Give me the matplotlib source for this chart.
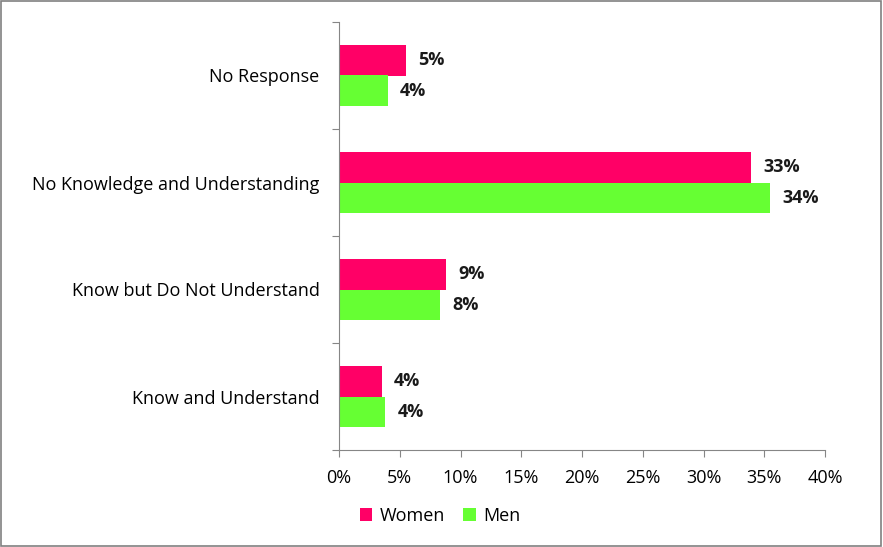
import numpy as np
import matplotlib.pyplot as plt
from matplotlib.patches import Rectangle

categories = ['Know and Understand', 'Know but Do Not Understand',
              'No Knowledge and Understanding', 'No Response']
women = [3.5, 8.8, 33.9, 5.5]
men = [3.8, 8.3, 35.5, 4.0]
women_labels = ['4%', '9%', '33%', '5%']
men_labels = ['4%', '8%', '34%', '4%']

pink = '#FF0066'
green = '#66FF33'
grey = '#868686'

plt.rcParams['font.family'] = ['Open Sans', 'DejaVu Sans']

fig = plt.figure(figsize=(8.83, 5.47), dpi=100)
ax = fig.add_axes([339/883, 1 - 450/547, (825-339)/883, (450-22)/547])

y = np.arange(len(categories))
h = 0.285
bw = ax.barh(y + h/2, women, height=h, color=pink, label='Women')
bm = ax.barh(y - h/2, men, height=h, color=green, label='Men')

for bar, txt in zip(bw, women_labels):
    ax.text(bar.get_width() + 1.0, bar.get_y() + bar.get_height()/2, txt,
            va='center', ha='left', fontsize=13, fontweight='bold', color='#1a1a1a')
for bar, txt in zip(bm, men_labels):
    ax.text(bar.get_width() + 1.0, bar.get_y() + bar.get_height()/2, txt,
            va='center', ha='left', fontsize=13, fontweight='bold', color='#1a1a1a')

ax.set_xlim(0, 40)
ax.set_ylim(-0.5, 3.5)
ax.set_xticks(np.arange(0, 41, 5))
ax.set_xticklabels([f'{v}%' for v in range(0, 41, 5)], fontsize=13)

# category labels between the boundary ticks
ax.set_yticks(np.arange(-0.5, 3.6, 1))
ax.set_yticklabels([])
ax.set_yticks(y, minor=True)
ax.set_yticklabels(categories, minor=True, fontsize=13)
ax.tick_params(axis='y', which='minor', length=0, pad=14)
ax.tick_params(axis='y', which='major', length=5, color=grey)
ax.tick_params(axis='x', length=5, color=grey, pad=9)

for s in ['top', 'right']:
    ax.spines[s].set_visible(False)
for s in ['left', 'bottom']:
    ax.spines[s].set_color(grey)

fig.legend(handles=[bw, bm], loc='center', bbox_to_anchor=(440/883, 1 - 516/547),
           ncol=2, frameon=False, fontsize=13, handlelength=0.7, handleheight=0.7,
           handletextpad=0.4, columnspacing=1.0)

fig.patches.append(Rectangle((0.001, 0.001), 0.997, 0.997, transform=fig.transFigure,
                             fill=False, edgecolor='#808080', linewidth=1.2))

fig.savefig('out.png', dpi=100)
